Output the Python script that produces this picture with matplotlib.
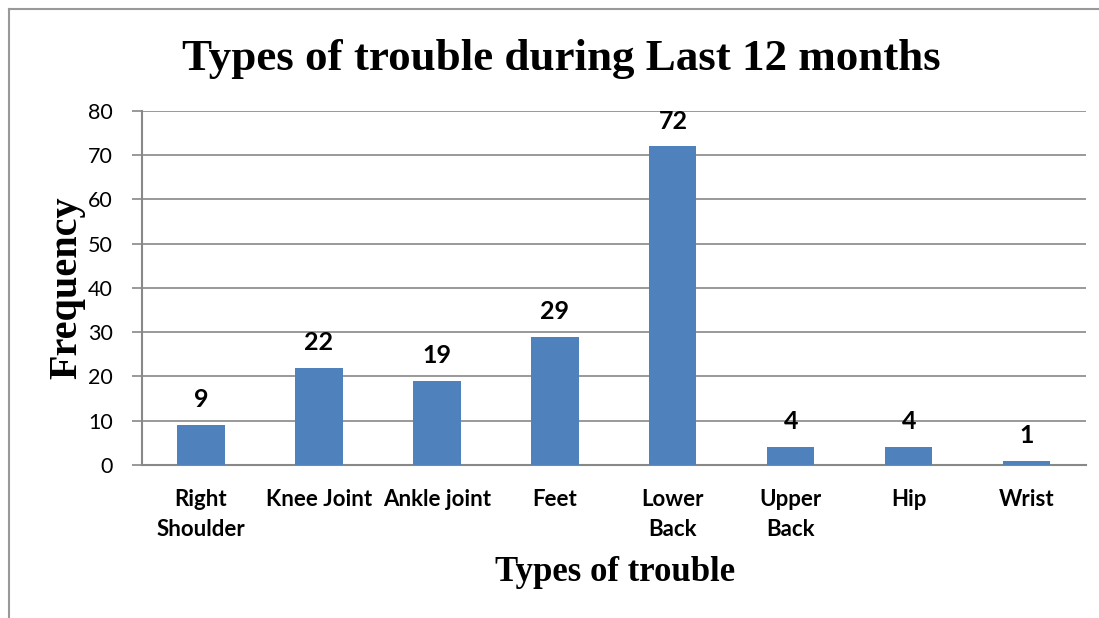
import matplotlib
matplotlib.use('Agg')
import matplotlib.pyplot as plt
from matplotlib.lines import Line2D

categories = ['Right\nShoulder', 'Knee Joint', 'Ankle joint', 'Feet',
              'Lower\nBack', 'Upper\nBack', 'Hip', 'Wrist']
frequency = [9, 22, 19, 29, 72, 4, 4, 1]
y_ticks = [0, 10, 20, 30, 40, 50, 60, 70, 80]

bar_colour = '#4F81BD'
grid_colour = '#888888'
sans = ['Lato', 'DejaVu Sans']
serif = ['Liberation Serif', 'DejaVu Serif']

fig = plt.figure(figsize=(10.99, 6.18), dpi=100)
ax = fig.add_axes([0.1292, 0.2476, 0.8588, 0.5728])

x = range(len(categories))
bars = ax.bar(x, frequency, width=0.4, color=bar_colour, zorder=3)

ax.set_xlim(-0.5, len(categories) - 0.5)
ax.set_ylim(0, 80)
ax.set_yticks(y_ticks)
ax.set_yticklabels([str(v) for v in y_ticks], fontfamily=sans, fontsize=15.5)
ax.set_xticks(list(x))
ax.set_xticklabels(categories, fontfamily=sans, fontsize=16, fontweight='bold',
                   linespacing=1.55, va='top')
ax.tick_params(axis='x', length=0, pad=17)
ax.tick_params(axis='y', length=7, width=1.2, color=grid_colour, pad=14)

ax.yaxis.grid(True, color=grid_colour, linewidth=1.2, zorder=0)
for side in ['top', 'right']:
    ax.spines[side].set_visible(False)
for side in ['left', 'bottom']:
    ax.spines[side].set_color(grid_colour)
    ax.spines[side].set_linewidth(1.5)

for xi, v in zip(x, frequency):
    ax.annotate(str(v), (xi, v), xytext=(0, 10), textcoords='offset points',
                ha='center', va='bottom', fontfamily=sans, fontsize=18,
                fontweight='bold')

fig.text(0.511, 0.905, 'Types of trouble during Last 12 months', ha='center',
         va='center', fontfamily=serif, fontweight='bold', fontsize=32.4)
fig.text(0.56, 0.073, 'Types of trouble', ha='center', va='center',
         fontfamily=serif, fontweight='bold', fontsize=25)
fig.text(0.061, 0.535, 'Frequency', ha='center', va='center', rotation=90,
         fontfamily=serif, fontweight='bold', fontsize=29)

# chart area border (left and top edges visible)
fig.add_artist(Line2D([0.0082, 0.0082], [0, 0.985], transform=fig.transFigure,
                      color='#999999', linewidth=1.5))
fig.add_artist(Line2D([0.0082, 1.0], [0.985, 0.985], transform=fig.transFigure,
                      color='#999999', linewidth=1.5))

fig.savefig('out.png', dpi=100)
